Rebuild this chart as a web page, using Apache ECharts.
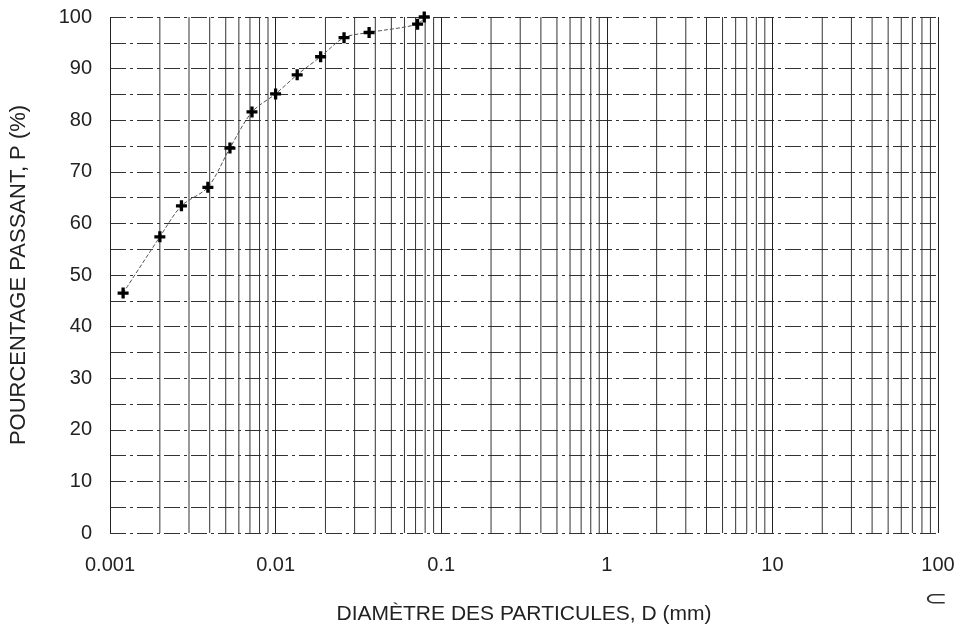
<!DOCTYPE html>
<html>
<head>
<meta charset="utf-8">
<script src="https://cdn.jsdelivr.net/npm/echarts@6/dist/echarts.min.js"></script>
<style>
html,body{margin:0;padding:0;background:#fff;}
#chart{width:958px;height:631px;}
</style>
</head>
<body>
<div id="chart"></div>
<script>
// Data
const diameters = [0.0012, 0.002, 0.0027, 0.0039, 0.0053, 0.0072, 0.01, 0.0135, 0.0187, 0.0259, 0.0367, 0.072, 0.079];
const passing   = [46.5, 57.4, 63.4, 67.0, 74.6, 81.6, 85.1, 88.8, 92.3, 96.0, 97.0, 98.6, 100];
const xTickLabels = ['0.001', '0.01', '0.1', '1', '10', '100'];
const decades = [0.001, 0.01, 0.1, 1, 10];
const multipliers = [2, 3, 4, 5, 6, 7, 8, 9];

// vertical log-grid lines (2..9 in each decade), drawn as broken line segments
const gridPts = [];
decades.forEach(d => multipliers.forEach(m => {
  const v = +(d * m).toPrecision(3);
  gridPts.push([v, 0], [v, 100], [v, '-']);
}));

const chart = echarts.init(document.getElementById('chart'), null, {renderer: 'canvas'});
const font = 'Liberation Sans, Arial, sans-serif';
const plus = 'path://M3.5,0H6.5V3.5H10V6.5H6.5V10H3.5V6.5H0V3.5H3.5Z';

chart.setOption({
  animation: false,
  backgroundColor: '#fff',
  grid: {left: 104, right: 20, top: 17, bottom: 98, containLabel: false},
  xAxis: {
    type: 'log', logBase: 10, min: 0.001, max: 100,
    name: 'DIAMÈTRE DES PARTICULES, D (mm)',
    nameLocation: 'middle', nameGap: 71,
    nameTextStyle: {fontFamily: font, fontSize: 21, color: '#222'},
    axisLine: {show: false},
    axisTick: {show: false},
    axisLabel: {
      fontFamily: font, fontSize: 20, color: '#222', margin: 22,
      formatter: (v, i) => xTickLabels[i] !== undefined ? xTickLabels[i] : ''
    },
    splitLine: {show: true, lineStyle: {color: '#222', width: 1}}
  },
  yAxis: {
    type: 'value', min: 0, max: 100, interval: 10,
    name: 'POURCENTAGE PASSANT, P (%)',
    nameLocation: 'middle', nameGap: 80,
    nameTextStyle: {fontFamily: font, fontSize: 22, color: '#222'},
    axisLine: {show: false},
    axisTick: {show: false},
    axisLabel: {fontFamily: font, fontSize: 20, color: '#222', margin: 18},
    splitLine: {show: true, lineStyle: {color: '#333', width: 1, type: [16, 4, 3, 4]}},
    minorTick: {show: false, splitNumber: 2},
    minorSplitLine: {show: true, lineStyle: {color: '#333', width: 1, type: [16, 4, 3, 4]}}
  },
  graphic: [{
    type: 'text', left: 924, top: 590, silent: true, scaleX: 1.4,
    style: {text: '⊂', fontSize: 20, fontFamily: 'DejaVu Sans', fill: '#333'}
  }],
  series: [
    {
      type: 'line',
      data: gridPts,
      silent: true,
      symbol: 'none',
      connectNulls: false,
      lineStyle: {color: '#333', width: 1},
      z: 1
    },
    {
      type: 'line',
      data: diameters.map((d, i) => [d, passing[i]]),
      smooth: 0.3,
      symbol: plus,
      symbolSize: 11,
      itemStyle: {color: '#000'},
      lineStyle: {color: '#555', width: 1, type: [4, 2]},
      z: 5
    }
  ]
});
</script>
</body>
</html>
